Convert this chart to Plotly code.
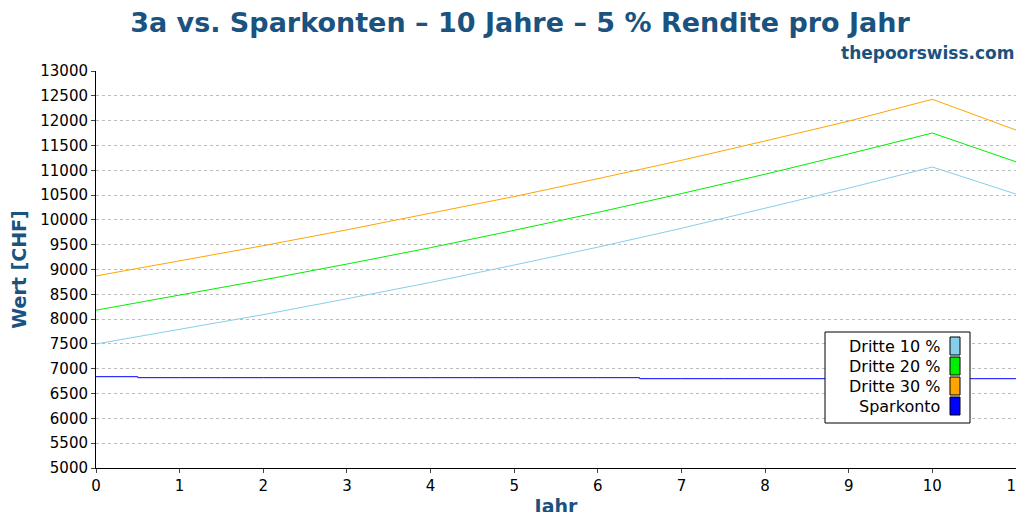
import plotly.graph_objects as go

years = list(range(12))
dritte10 = [7500, 7790, 8090, 8410, 8740, 9090, 9450, 9830, 10230, 10640, 11066, 10520]
dritte20 = [8180, 8480, 8790, 9110, 9440, 9790, 10150, 10530, 10920, 11330, 11750, 11170]
dritte30 = [8870, 9170, 9480, 9800, 10130, 10470, 10830, 11200, 11590, 11990, 12430, 11810]
spar = [6840, 6820, 6820, 6820, 6820, 6820, 6820, 6800, 6800, 6800, 6800, 6800]
names = ["Dritte 10 %", "Dritte 20 %", "Dritte 30 %", "Sparkonto"]
colors = ["#87ceeb", "#00ee00", "#ffa500", "#0000ff"]

fig = go.Figure()
for n, ys, c in zip(names, [dritte10, dritte20, dritte30, spar], colors):
    fig.add_trace(go.Scatter(x=years, y=ys, name=n, mode="lines",
                             line=dict(color=c, width=1, shape="hvh" if n == "Sparkonto" else "linear"),
                             showlegend=False))

blue = "#1a5280"
W, H = 1024, 512
l, r, t, b = 88, 16, 63, 52
pw, ph = W - l - r, H - t - b
def px(x): return (x - l) / pw
def py(y): return 1 - (y - t) / ph

shapes = [dict(type="rect", xref="paper", yref="paper", x0=px(817), x1=px(962), y0=py(415), y1=py(324),
               line=dict(color="black", width=1), fillcolor="white")]
ann = []
for i, (n, c) in enumerate(zip(names, colors)):
    yc = 338 + i * 20
    shapes.append(dict(type="rect", xref="paper", yref="paper", x0=px(942), x1=px(952),
                       y0=py(yc + 9), y1=py(yc - 9), line=dict(color="black", width=1), fillcolor=c))
    ann.append(dict(text=n, xref="paper", yref="paper", x=px(934), y=py(yc), xanchor="right",
                    yanchor="middle", showarrow=False, font=dict(size=16, color="black")))
ann.append(dict(text="<b>thepoorswiss.com</b>", xref="paper", yref="paper", x=px(1009), y=py(45),
                xanchor="right", yanchor="middle", showarrow=False, font=dict(size=17, color=blue)))

fig.update_layout(
    width=W, height=H, margin=dict(l=l, r=r, t=t, b=b, autoexpand=False),
    paper_bgcolor="white", plot_bgcolor="white",
    font=dict(family="DejaVu Sans", size=15, color="black"),
    title=dict(text="<b>3a vs. Sparkonten – 10 Jahre – 5 % Rendite pro Jahr</b>", x=0.5, xanchor="center",
               y=1 - 15 / H, yanchor="middle", font=dict(size=27, color=blue)),
    xaxis=dict(range=[0, 11], dtick=1, showgrid=False, showline=True, linecolor="black",
               ticks="outside", ticklen=4, automargin=False,
               title=dict(text="<b>Jahr</b>", font=dict(size=19, color=blue), standoff=5),
               zeroline=False),
    yaxis=dict(range=[5000, 13000], dtick=500, tickformat="d", showgrid=True, gridcolor="#bbbbbb", griddash="dot",
               showline=True, linecolor="black", ticks="outside", ticklen=4, zeroline=False, automargin=False,
               title=dict(text="<b>Wert [CHF]</b>", font=dict(size=19, color=blue), standoff=8)),
    shapes=shapes, annotations=ann,
)
fig.write_html("out.html")
